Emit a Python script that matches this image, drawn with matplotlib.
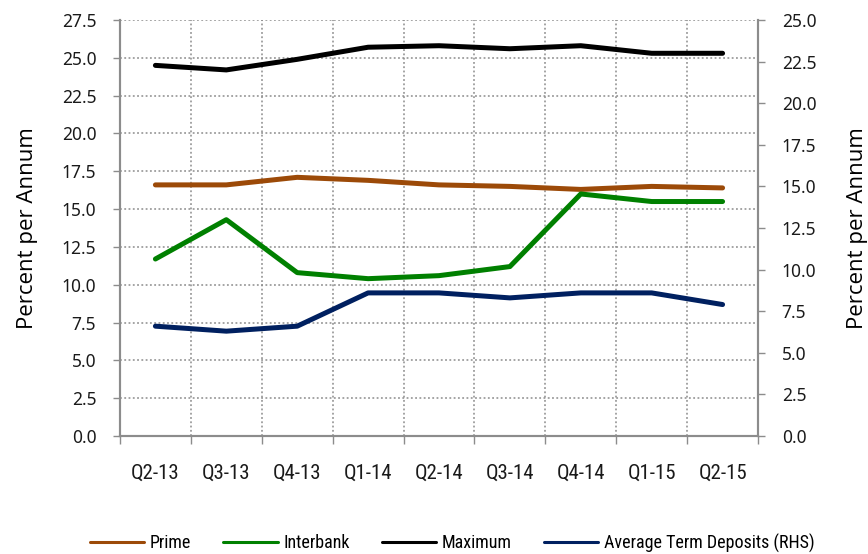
import numpy as np
import matplotlib
matplotlib.use("Agg")
import matplotlib.pyplot as plt
from matplotlib.ticker import MultipleLocator, FixedLocator, FormatStrFormatter

# chart data
quarters = ["Q2-13", "Q3-13", "Q4-13", "Q1-14", "Q2-14", "Q3-14", "Q4-14", "Q1-15", "Q2-15"]
prime = [16.6, 16.6, 17.1, 16.9, 16.6, 16.5, 16.3, 16.5, 16.4]
interbank = [11.7, 14.3, 10.8, 10.4, 10.6, 11.2, 16.0, 15.5, 15.5]
maximum = [24.5, 24.2, 24.9, 25.7, 25.8, 25.6, 25.8, 25.3, 25.3]
avg_term = [6.6, 6.3, 6.6, 8.6, 8.6, 8.3, 8.6, 8.6, 7.9]

# colours
PRIME = "#9c4a08"
INTER = "#008000"
MAXI = "#000000"
AVG = "#002060"
GREY = "#8c8c8c"

narrow = ["Roboto Condensed", "DejaVu Sans"]
tick_font = ["Noto Sans", "DejaVu Sans"]
label_font = ["Open Sans", "DejaVu Sans"]

fig = plt.figure(figsize=(8.68, 5.54), dpi=100)
ax = fig.add_axes([0.1382, 0.2130, 0.7351, 0.7509])
ax2 = ax.twinx()

x = np.arange(len(quarters))
style = dict(lw=3.6, solid_capstyle="round", solid_joinstyle="round")
l1, = ax.plot(x, prime, color=PRIME, label="Prime", **style)
l2, = ax.plot(x, interbank, color=INTER, label="Interbank", **style)
l3, = ax.plot(x, maximum, color=MAXI, label="Maximum", **style)
l4, = ax2.plot(x, avg_term, color=AVG, label="Average Term Deposits (RHS)", **style)

# axis ranges
ax.set_xlim(-0.5, len(quarters) - 0.5)
ax.set_ylim(0, 27.5)
ax2.set_ylim(0, 25)
ax.yaxis.set_major_locator(MultipleLocator(2.5))
ax2.yaxis.set_major_locator(MultipleLocator(2.5))
ax.yaxis.set_major_formatter(FormatStrFormatter("%.1f"))
ax2.yaxis.set_major_formatter(FormatStrFormatter("%.1f"))

# x ticks at category boundaries, labels at centres
ax.xaxis.set_major_locator(FixedLocator(np.arange(-0.5, len(quarters), 1.0)))
ax.set_xticklabels([], minor=False)
ax.set_xticks(x, minor=True)
ax.set_xticklabels(quarters, minor=True, fontfamily=narrow, fontsize=15, color="#1a1a1a")
ax.tick_params(axis="x", which="major", direction="out", length=6, width=1, color=GREY)
ax.tick_params(axis="x", which="minor", length=0, pad=20)

ax.tick_params(axis="y", direction="out", length=5, width=1, color=GREY, pad=12)
ax2.tick_params(axis="y", direction="out", length=5, width=1, color=GREY, pad=12)
for lab in ax.get_yticklabels() + ax2.get_yticklabels():
    lab.set_fontfamily(tick_font)
    lab.set_fontsize(12.5)
    lab.set_color("#1a1a1a")

# grid
ax.grid(True, which="major", axis="both", linestyle=(0, (1.2, 1.6)), color=GREY, lw=1.1)
ax.set_axisbelow(True)

# spines
for a in (ax, ax2):
    a.spines["top"].set_visible(False)
    for s in ("left", "right", "bottom"):
        a.spines[s].set_color(GREY)
        a.spines[s].set_linewidth(1.5)

ax.set_ylabel("Percent per Annum", fontfamily=label_font, fontsize=16, labelpad=17)
ax2.set_ylabel("Percent per Annum", fontfamily=label_font, fontsize=16, labelpad=22)

leg = fig.legend(handles=[l1, l2, l3, l4], loc="center left", bbox_to_anchor=(0.1037, 0.02), ncol=4,
                 frameon=False, prop={"family": narrow, "size": 13, "weight": "normal"},
                 handlelength=3.0, handletextpad=0.3, columnspacing=1.8, borderaxespad=0, borderpad=0)
for h in leg.get_lines():
    h.set_linewidth(2.2)

fig.savefig("out.png", dpi=100)
